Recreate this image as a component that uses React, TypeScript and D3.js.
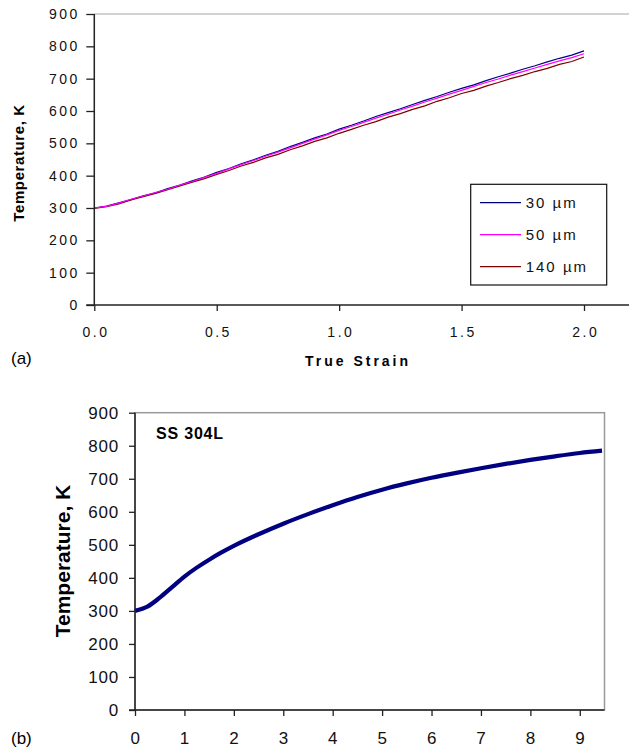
import { useEffect, useRef } from 'react';
import * as d3 from 'd3';

// (a) temperature vs true strain, three grain sizes
const strainA = [
  0, 0.05, 0.1, 0.15, 0.2, 0.25, 0.3, 0.35, 0.4, 0.45, 0.5, 0.55, 0.6, 0.65, 0.7, 0.75, 0.8, 0.85,
  0.9, 0.95, 1.0, 1.05, 1.1, 1.15, 1.2, 1.25, 1.3, 1.35, 1.4, 1.45, 1.5, 1.55, 1.6, 1.65, 1.7,
  1.75, 1.8, 1.85, 1.9, 1.95, 2.0,
];
const temp30 = [
  300, 306, 316, 326, 338, 347, 360, 371, 384, 396, 410, 422, 437, 449, 463, 475, 490, 503, 517,
  529, 544, 556, 569, 583, 595, 607, 620, 633, 645, 658, 670, 681, 694, 706, 717, 729, 740, 752,
  763, 773, 786,
];
const temp50 = [
  300, 305, 315, 327, 337, 348, 358, 371, 382, 395, 407, 421, 434, 447, 460, 473, 486, 500, 513,
  526, 540, 552, 565, 578, 590, 603, 615, 628, 640, 652, 664, 676, 688, 699, 711, 722, 733, 744,
  755, 765, 777,
];
const temp140 = [
  299, 304, 313, 325, 335, 345, 357, 368, 380, 391, 404, 416, 430, 441, 455, 466, 480, 492, 506,
  517, 531, 543, 556, 567, 581, 592, 605, 616, 630, 641, 654, 664, 677, 688, 700, 710, 722, 732,
  744, 753, 767,
];
const seriesNames = ['30 µm', '50 µm', '140 µm'];
const seriesColors = ['#000080', '#ff00ff', '#800000'];
const ticksA = [0, 0.5, 1.0, 1.5, 2.0];

// (b) SS 304L
const strainB = [0, 0.25, 0.5, 0.75, 1, 1.25, 1.5, 1.75, 2, 2.5, 3, 3.5, 4, 4.5, 5, 5.5, 6, 6.5, 7, 7.5, 8, 8.5, 9, 9.45];
const tempB = [300, 313, 340, 372, 404, 431, 455, 477, 497, 532, 564, 593, 620, 645, 667, 686, 703, 718, 732, 745, 757, 768, 778, 785];
const ticksB = [0, 1, 2, 3, 4, 5, 6, 7, 8, 9];
const tempTicks = [0, 100, 200, 300, 400, 500, 600, 700, 800, 900];

const W = 629;
const H = 750;
const FONT = 'Arial, "Liberation Sans", sans-serif';

export default function App() {
  const svgRef = useRef<SVGSVGElement>(null);

  useEffect(() => {
    if (!svgRef.current) return;
    const svg = d3.select(svgRef.current);
    svg.selectAll('*').remove();

    // ---------- panel (a) ----------
    const xA = d3.scaleLinear().domain([0, 2]).range([94.3, 584]);
    const yA = d3.scaleLinear().domain([0, 900]).range([305, 14]);

    svg.append('line')
      .attr('x1', xA(0)).attr('x2', W).attr('y1', yA(900)).attr('y2', yA(900))
      .attr('stroke', '#a6a6a6').attr('stroke-width', 1.2);

    const line = d3.line<[number, number]>().x((d) => xA(d[0])).y((d) => yA(d[1]));
    const order = [0, 2, 1];
    const all = [temp30, temp50, temp140];
    order.forEach((i) => {
      svg.append('path')
        .datum(strainA.map((s, j) => [s, all[i][j]] as [number, number]))
        .attr('d', line)
        .attr('fill', 'none')
        .attr('stroke', seriesColors[i])
        .attr('stroke-width', 1.2);
    });

    const axA = svg.append('g').attr('font-family', FONT);
    axA.append('g')
      .attr('transform', `translate(${xA(0)},0)`)
      .call(d3.axisLeft(yA).tickValues(tempTicks).tickSize(8).tickPadding(9).tickSizeOuter(0));
    axA.append('g')
      .attr('transform', `translate(0,${yA(0)})`)
      .call(d3.axisBottom(xA).tickValues(ticksA).tickFormat(d3.format('.1f')).tickSize(6).tickPadding(16).tickSizeOuter(0));
    axA.selectAll('.domain').remove();
    axA.selectAll('.tick line').attr('stroke', '#222').attr('stroke-width', 1.3);
    axA.selectAll('.tick text')
      .attr('font-size', 14).attr('fill', '#111').attr('letter-spacing', 2.5);
    axA.selectAll('g:nth-child(2) .tick text').attr('dx', 1.2);
    axA.selectAll('g:nth-child(1) .tick text').attr('dx', 2.5);

    axA.append('line')
      .attr('x1', xA(0)).attr('x2', xA(0)).attr('y1', yA(900)).attr('y2', yA(0))
      .attr('stroke', '#222').attr('stroke-width', 1.5);
    axA.append('line')
      .attr('x1', xA(0) - 8).attr('x2', W).attr('y1', yA(0)).attr('y2', yA(0))
      .attr('stroke', '#222').attr('stroke-width', 1.5);

    svg.append('text')
      .attr('transform', `translate(24,163) rotate(-90)`)
      .attr('text-anchor', 'middle')
      .attr('font-family', FONT).attr('font-size', 15).attr('font-weight', 'bold')
      .attr('letter-spacing', 0.6)
      .text('Temperature, K');

    svg.append('text')
      .attr('x', 358).attr('y', 366)
      .attr('text-anchor', 'middle')
      .attr('font-family', FONT).attr('font-size', 14).attr('font-weight', 'bold')
      .attr('letter-spacing', 3)
      .text('True Strain');

    svg.append('text')
      .attr('x', 11).attr('y', 364)
      .attr('font-family', FONT).attr('font-size', 17)
      .text('(a)');

    // legend
    const lg = svg.append('g').attr('font-family', FONT);
    lg.append('rect')
      .attr('x', 470.7).attr('y', 184.3).attr('width', 136).attr('height', 100.7)
      .attr('fill', '#fff').attr('stroke', '#111').attr('stroke-width', 1.2);
    seriesNames.forEach((name, i) => {
      const yy = 202.7 + i * 32;
      lg.append('line')
        .attr('x1', 480).attr('x2', 521).attr('y1', yy).attr('y2', yy)
        .attr('stroke', seriesColors[i]).attr('stroke-width', 1.2);
      lg.append('text')
        .attr('x', 525.7).attr('y', yy + 5.5)
        .attr('font-size', 15).attr('letter-spacing', 2).attr('fill', '#111')
        .text(name);
    });

    // ---------- panel (b) ----------
    const xB = d3.scaleLinear().domain([0, 9.5]).range([135, 604.5]);
    const yB = d3.scaleLinear().domain([0, 900]).range([710, 412.7]);

    svg.append('rect')
      .attr('x', xB(0)).attr('y', yB(900))
      .attr('width', xB(9.5) - xB(0)).attr('height', yB(0) - yB(900))
      .attr('fill', 'none').attr('stroke', '#999').attr('stroke-width', 1.5);

    const lineB = d3.line<number>()
      .x((_, j) => xB(strainB[j]))
      .y((d) => yB(d))
      .curve(d3.curveCatmullRom);
    svg.append('path')
      .datum(tempB)
      .attr('d', lineB)
      .attr('fill', 'none')
      .attr('stroke', '#000080')
      .attr('stroke-width', 4.2);

    const axB = svg.append('g').attr('font-family', FONT);
    axB.append('g')
      .attr('transform', `translate(${xB(0)},0)`)
      .call(d3.axisLeft(yB).tickValues(tempTicks).tickSize(6).tickPadding(10).tickSizeOuter(0));
    axB.append('g')
      .attr('transform', `translate(0,${yB(0)})`)
      .call(d3.axisBottom(xB).tickValues(ticksB).tickFormat(d3.format('d')).tickSize(6).tickPadding(16).tickSizeOuter(0));
    axB.selectAll('.domain').remove();
    axB.selectAll('.tick line').attr('stroke', '#222').attr('stroke-width', 1.3);
    axB.selectAll('.tick text')
      .attr('font-size', 17).attr('fill', '#111').attr('letter-spacing', 0.8);

    axB.append('line')
      .attr('x1', xB(0)).attr('x2', xB(0)).attr('y1', yB(900)).attr('y2', yB(0))
      .attr('stroke', '#222').attr('stroke-width', 1.5);
    axB.append('line')
      .attr('x1', xB(0) - 6).attr('x2', xB(9.5)).attr('y1', yB(0)).attr('y2', yB(0))
      .attr('stroke', '#222').attr('stroke-width', 1.5);

    svg.append('text')
      .attr('transform', `translate(70,561) rotate(-90)`)
      .attr('text-anchor', 'middle')
      .attr('font-family', FONT).attr('font-size', 21).attr('font-weight', 'bold')
      .text('Temperature, K');

    svg.append('text')
      .attr('x', 156).attr('y', 439)
      .attr('font-family', FONT).attr('font-size', 16).attr('font-weight', 'bold')
      .attr('letter-spacing', 0.8)
      .text('SS 304L');

    svg.append('text')
      .attr('x', 11).attr('y', 744)
      .attr('font-family', FONT).attr('font-size', 17)
      .text('(b)');
  }, []);

  return (
    <svg
      ref={svgRef}
      width={W}
      height={H}
      style={{ position: 'absolute', left: 0, top: 0, background: '#fff' }}
    />
  );
}
